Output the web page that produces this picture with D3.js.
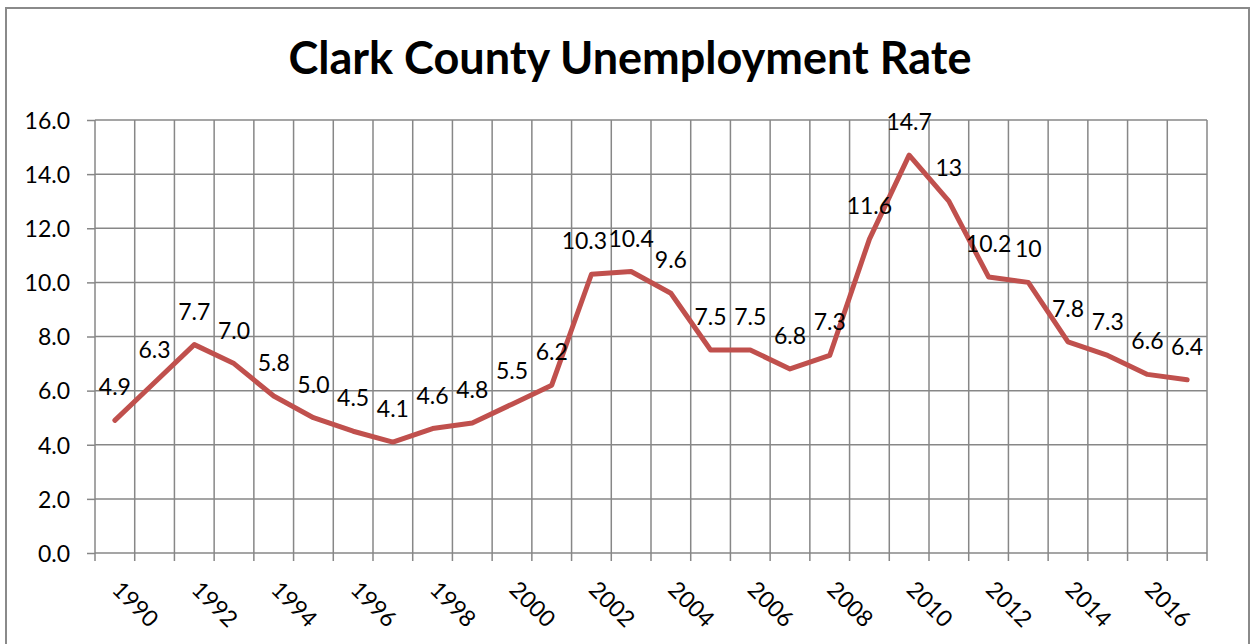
<!DOCTYPE html>
<html>
<head>
<meta charset="utf-8">
<script src="https://cdn.jsdelivr.net/npm/d3@7"></script>
<style>
  html, body { margin: 0; padding: 0; background: #fff; }
  svg { display: block; }
  text { font-family: Lato, "Open Sans", sans-serif; fill: #000; }
</style>
</head>
<body>
<svg id="chart" width="1255" height="644"></svg>
<script>
// Clark County annual unemployment rate (%)
const years = d3.range(1990, 2018);
const rates = [4.9, 6.3, 7.7, 7.0, 5.8, 5.0, 4.5, 4.1, 4.6, 4.8, 5.5, 6.2, 10.3, 10.4,
               9.6, 7.5, 7.5, 6.8, 7.3, 11.6, 14.7, 13, 10.2, 10, 7.8, 7.3, 6.6, 6.4];
const rateLabels = ["4.9", "6.3", "7.7", "7.0", "5.8", "5.0", "4.5", "4.1", "4.6", "4.8",
                    "5.5", "6.2", "10.3", "10.4", "9.6", "7.5", "7.5", "6.8", "7.3", "11.6",
                    "14.7", "13", "10.2", "10", "7.8", "7.3", "6.6", "6.4"];
const yTicks = [0, 2, 4, 6, 8, 10, 12, 14, 16];
const xTickYears = d3.range(1990, 2018, 2);
const title = "Clark County Unemployment Rate";

const data = years.map((y, i) => ({ year: y, rate: rates[i], label: rateLabels[i] }));

const svg = d3.select("#chart");
const plot = { left: 95, right: 1207, top: 120, bottom: 553 };
const gridColor = "#878787";
const lineColor = "#C0504D";

// outer chart frame
svg.append("rect")
  .attr("x", 6).attr("y", 8)
  .attr("width", 1243).attr("height", 660)
  .attr("fill", "#fff")
  .attr("stroke", "#8a8a8a").attr("stroke-width", 2);

const x = d3.scaleBand().domain(years).range([plot.left, plot.right]).padding(0);
const y = d3.scaleLinear().domain([0, 16]).range([plot.bottom, plot.top]);
const cx = d => x(d) + x.bandwidth() / 2;

// horizontal gridlines
svg.append("g").selectAll("line")
  .data(yTicks)
  .join("line")
  .attr("x1", plot.left).attr("x2", plot.right)
  .attr("y1", d => y(d)).attr("y2", d => y(d))
  .attr("stroke", gridColor).attr("stroke-width", 1.5);

// y axis: short outward ticks and labels
const gy = svg.append("g")
  .attr("transform", `translate(${plot.left},0)`)
  .call(d3.axisLeft(y)
    .tickValues(yTicks)
    .tickFormat(d3.format(".1f"))
    .tickSize(8)
    .tickSizeOuter(0)
    .tickPadding(17));
gy.select(".domain").remove();
gy.selectAll(".tick line")
  .attr("stroke", gridColor).attr("stroke-width", 1.5);
gy.selectAll(".tick text")
  .attr("font-size", 23)
  .attr("font-family", "Lato")
  .attr("fill", "#000")
  .attr("dy", "0.36em");

// vertical gridlines at category boundaries, extending as tick marks below the axis
const boundaries = years.map(v => x(v)).concat([plot.right]);
svg.append("g").selectAll("line")
  .data(boundaries)
  .join("line")
  .attr("x1", d => d).attr("x2", d => d)
  .attr("y1", plot.top).attr("y2", plot.bottom + 8)
  .attr("stroke", gridColor).attr("stroke-width", 1.5);

// rotated category labels (every other year)
svg.append("g").selectAll("text")
  .data(xTickYears)
  .join("text")
  .attr("transform", d => `translate(${cx(d) - 4},${plot.bottom + 38}) rotate(45)`)
  .attr("font-size", 23)
  .attr("text-anchor", "start")
  .text(d => d);

// series line
const line = d3.line()
  .x(d => cx(d.year))
  .y(d => y(d.rate));

svg.append("path")
  .datum(data)
  .attr("d", line)
  .attr("fill", "none")
  .attr("stroke", lineColor)
  .attr("stroke-width", 5)
  .attr("stroke-linejoin", "round")
  .attr("stroke-linecap", "round");

// value labels above each point; the 2002 label is nudged left to clear its neighbour
const labelNudge = { 2002: -7 };
svg.append("g").selectAll("text")
  .data(data)
  .join("text")
  .attr("x", d => cx(d.year) + (labelNudge[d.year] || 0))
  .attr("y", d => y(d.rate) - 25)
  .attr("text-anchor", "middle")
  .attr("font-size", 23)
  .text(d => d.label);

// title
svg.append("text")
  .attr("x", 630).attr("y", 74)
  .attr("text-anchor", "middle")
  .attr("font-size", 45)
  .attr("font-weight", "bold")
  .text(title);
</script>
</body>
</html>
